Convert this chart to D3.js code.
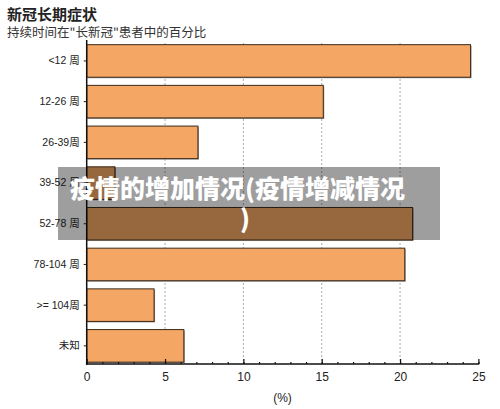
<!DOCTYPE html>
<html>
<head>
<meta charset="utf-8">
<script src="https://cdn.jsdelivr.net/npm/d3@7"></script>
<style>
  body { margin: 0; background: #fff; }
  text { font-family: "Noto Sans CJK SC", "Liberation Sans", sans-serif; }
</style>
</head>
<body>
<script>
const categories = ["<12 周", "12-26 周", "26-39周", "39-52 周", "52-78 周", "78-104 周", ">= 104周", "未知"];
const values = [24.5, 15.1, 7.1, 1.8, 20.8, 20.3, 4.3, 6.2];
const xTicks = [0, 5, 10, 15, 20, 25];

const svg = d3.select("body").append("svg")
    .attr("width", 500)
    .attr("height", 409);

const x = d3.scaleLinear().domain([0, 25]).range([86.7, 478.4]);
const y = d3.scaleBand().domain(categories).range([40.6, 366.2]).paddingInner(0.2).paddingOuter(0.1);
const axisY = 364;

// titles
svg.append("text").attr("x", 7).attr("y", 20)
    .attr("font-size", 15).attr("font-weight", "bold").attr("fill", "#222")
    .text("新冠长期症状");
svg.append("text").attr("x", 7).attr("y", 37)
    .attr("font-size", 12.5).attr("fill", "#333")
    .text("持续时间在\"长新冠\"患者中的百分比");

// grid
svg.append("g").selectAll("line")
    .data(xTicks.filter(d => d > 0 && d < 25))
    .join("line")
    .attr("x1", d => x(d)).attr("x2", d => x(d))
    .attr("y1", 43).attr("y2", axisY)
    .attr("stroke", "#aaa")
    .attr("stroke-dasharray", "2,2");

// bars
const bars = svg.append("g");
bars.selectAll("rect.shadow")
    .data(values)
    .join("rect")
    .attr("class", "shadow")
    .attr("x", x(0) + 1)
    .attr("y", (d, i) => y(categories[i]) + 1)
    .attr("width", d => x(d) - x(0))
    .attr("height", y.bandwidth())
    .attr("fill", "#999");
bars.selectAll("rect.bar")
    .data(values)
    .join("rect")
    .attr("class", "bar")
    .attr("x", x(0))
    .attr("y", (d, i) => y(categories[i]))
    .attr("width", d => x(d) - x(0))
    .attr("height", y.bandwidth())
    .attr("fill", "#f4a664")
    .attr("stroke", "#3b2a1a")
    .attr("stroke-width", 1);

// y axis
const yAxis = svg.append("g")
    .attr("transform", `translate(${x(0)},0)`)
    .call(d3.axisLeft(y).tickSize(3).tickPadding(4));
yAxis.select(".domain").remove();
yAxis.selectAll(".tick line").attr("stroke", "#222");
yAxis.selectAll("text").attr("font-size", 10.5).attr("fill", "#222")
    .style("font-family", "\"Liberation Sans\", \"Noto Sans CJK SC\", sans-serif");
svg.append("line")
    .attr("x1", x(0)).attr("x2", x(0))
    .attr("y1", 40).attr("y2", axisY + 1)
    .attr("stroke", "#111").attr("stroke-width", 1.5);

// x axis
const xAxis = svg.append("g").attr("transform", `translate(0,${axisY})`);
xAxis.append("g")
    .call(d3.axisBottom(x).tickValues(d3.range(0, 26)).tickSize(-2).tickFormat(""))
    .call(g => g.select(".domain").remove())
    .selectAll("line").attr("stroke", "#111").attr("stroke-width", 1.2);
const major = xAxis.append("g")
    .call(d3.axisBottom(x).tickValues(xTicks).tickSize(-5).tickPadding(8));
major.select(".domain").remove();
major.selectAll("line").attr("stroke", "#111").attr("stroke-width", 1.2);
major.selectAll("text")
    .attr("font-size", 12).attr("fill", "#222")
    .attr("dy", "0.71em")
    .attr("y", 8)
    .style("font-family", "\"Liberation Sans\", sans-serif");
xAxis.append("line")
    .attr("x1", x(0) - 0.75).attr("x2", x(25) + 0.75)
    .attr("stroke", "#111").attr("stroke-width", 1.5);

svg.append("text")
    .attr("x", (x(0) + x(25)) / 2).attr("y", 402)
    .attr("text-anchor", "middle")
    .attr("font-size", 12).attr("fill", "#222")
    .style("font-family", "\"Liberation Sans\", sans-serif")
    .text("(%)");

// overlay banner
svg.append("rect")
    .attr("x", 58).attr("y", 167)
    .attr("width", 382).attr("height", 73)
    .attr("fill", "rgba(0,0,0,0.38)");
const banner = svg.append("text")
    .attr("font-size", 25).attr("font-weight", 900).attr("fill", "#fff");
banner.append("tspan").attr("x", 70).attr("y", 198).text("疫情的增加情况(疫情增减情况");
banner.append("tspan").attr("x", 240).attr("y", 228).text(")");
</script>
</body>
</html>
